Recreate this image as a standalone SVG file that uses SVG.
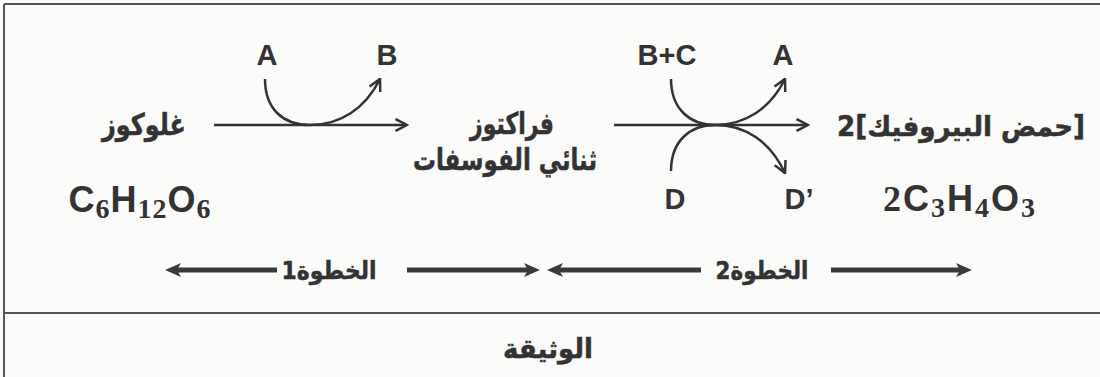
<svg xmlns="http://www.w3.org/2000/svg" width="1100" height="377" viewBox="0 0 1100 377">
<style>
  .ar { font-family: "DejaVu Sans", "Noto Sans", sans-serif; font-weight: bold; fill: #333; stroke: #333; stroke-width: 0.5; }
  .lat { font-family: "Liberation Sans", Arial, sans-serif; font-weight: bold; fill: #333; }
  .sub { font-family: "Liberation Serif", "Times New Roman", serif; font-weight: bold; }
  .frame { stroke: #555; stroke-width: 2; fill: none; }
  .rx { stroke: #333; stroke-width: 2.5; fill: none; }
  .step { stroke: #3a3a3a; stroke-width: 5; fill: none; }
</style>
<defs>
  <marker id="chev" viewBox="0 0 14 14" refX="12.5" refY="7" markerWidth="14" markerHeight="14" markerUnits="userSpaceOnUse" orient="auto">
    <path d="M1,1 L12.5,7 L1,13" fill="none" stroke="#333" stroke-width="2.5" stroke-linejoin="miter"/>
  </marker>
  <marker id="tri" viewBox="0 0 16 14" refX="6" refY="7" markerWidth="16" markerHeight="14" markerUnits="userSpaceOnUse" orient="auto">
    <path d="M0,0 L16,7 L0,14 L4,7 Z" fill="#3a3a3a"/>
  </marker>
</defs>
<rect x="0" y="0" width="1100" height="377" fill="#fbfbfa"/>

<g id="frame">
  <line class="frame" x1="4" y1="4" x2="1100" y2="4"/>
  <line class="frame" x1="4" y1="4" x2="4" y2="377"/>
  <line class="frame" x1="4" y1="313" x2="1100" y2="313"/>
</g>

<g id="glucose">
  <text class="ar" x="144" y="135" font-size="30" text-anchor="middle" direction="rtl" textLength="84" lengthAdjust="spacingAndGlyphs">غلوكوز</text>
  <text class="lat" x="140" y="212" font-size="36" text-anchor="middle" letter-spacing="1">C<tspan class="sub" font-size="28" dy="6">6</tspan><tspan dy="-6">H</tspan><tspan class="sub" font-size="28" dy="6">12</tspan><tspan dy="-6">O</tspan><tspan class="sub" font-size="28" dy="6">6</tspan></text>
</g>

<g id="fructose">
  <text class="ar" x="512" y="134" font-size="30" text-anchor="middle" direction="rtl" textLength="84" lengthAdjust="spacingAndGlyphs">فراكتوز</text>
  <text class="ar" x="505" y="170" font-size="30" text-anchor="middle" direction="rtl" textLength="184" lengthAdjust="spacingAndGlyphs">ثنائي الفوسفات</text>
</g>

<g id="pyruvate">
  <text class="ar" x="961" y="136" font-size="28" text-anchor="middle" direction="rtl" textLength="248" lengthAdjust="spacingAndGlyphs">[حمض البيروفيك]2</text>
  <text class="lat" x="960" y="211" font-size="36" text-anchor="middle" letter-spacing="2"><tspan class="sub">2</tspan>C<tspan class="sub" font-size="28" dy="6">3</tspan><tspan dy="-6">H</tspan><tspan class="sub" font-size="28" dy="6">4</tspan><tspan dy="-6">O</tspan><tspan class="sub" font-size="28" dy="6">3</tspan></text>
</g>

<g id="labels">
  <text class="lat" x="267" y="65" font-size="29" text-anchor="middle">A</text>
  <text class="lat" x="387" y="65" font-size="29" text-anchor="middle">B</text>
  <text class="lat" x="667" y="65" font-size="29" text-anchor="middle">B+C</text>
  <text class="lat" x="783" y="65" font-size="29" text-anchor="middle">A</text>
  <text class="lat" x="675" y="209" font-size="29" text-anchor="middle">D</text>
  <text class="lat" x="799" y="209" font-size="29" text-anchor="middle">D’</text>
</g>

<g id="connectors">
  <line class="rx" x1="214" y1="125" x2="407" y2="125" marker-end="url(#chev)"/>
  <path class="rx" d="M265,79 C265,109 283,125 310,125 C340,125 365,109 380,79" marker-end="url(#chev)"/>
  <line class="rx" x1="614" y1="125" x2="808" y2="125" marker-end="url(#chev)"/>
  <path class="rx" d="M671,79 C671,109 690,125 715,125 C745,125 770,109 785,79" marker-end="url(#chev)"/>
  <path class="rx" d="M671,171 C671,141 690,125 715,125 C745,125 770,141 785,173" marker-end="url(#chev)"/>
  <line class="step" x1="277" y1="270" x2="175" y2="270" marker-end="url(#tri)"/>
  <line class="step" x1="407" y1="270" x2="530" y2="270" marker-end="url(#tri)"/>
  <line class="step" x1="701" y1="270" x2="557" y2="270" marker-end="url(#tri)"/>
  <line class="step" x1="831" y1="270" x2="962" y2="270" marker-end="url(#tri)"/>
</g>

<g id="steps">
  <text class="ar" x="329" y="279" font-size="25" text-anchor="middle" direction="rtl" textLength="95" lengthAdjust="spacingAndGlyphs">الخطوة1</text>
  <text class="ar" x="762" y="279" font-size="25" text-anchor="middle" direction="rtl" textLength="93" lengthAdjust="spacingAndGlyphs">الخطوة2</text>
</g>

<g id="caption">
  <text class="ar" x="548" y="358" font-size="27" text-anchor="middle" direction="rtl" textLength="90" lengthAdjust="spacingAndGlyphs">الوثيقة</text>
</g>
</svg>
